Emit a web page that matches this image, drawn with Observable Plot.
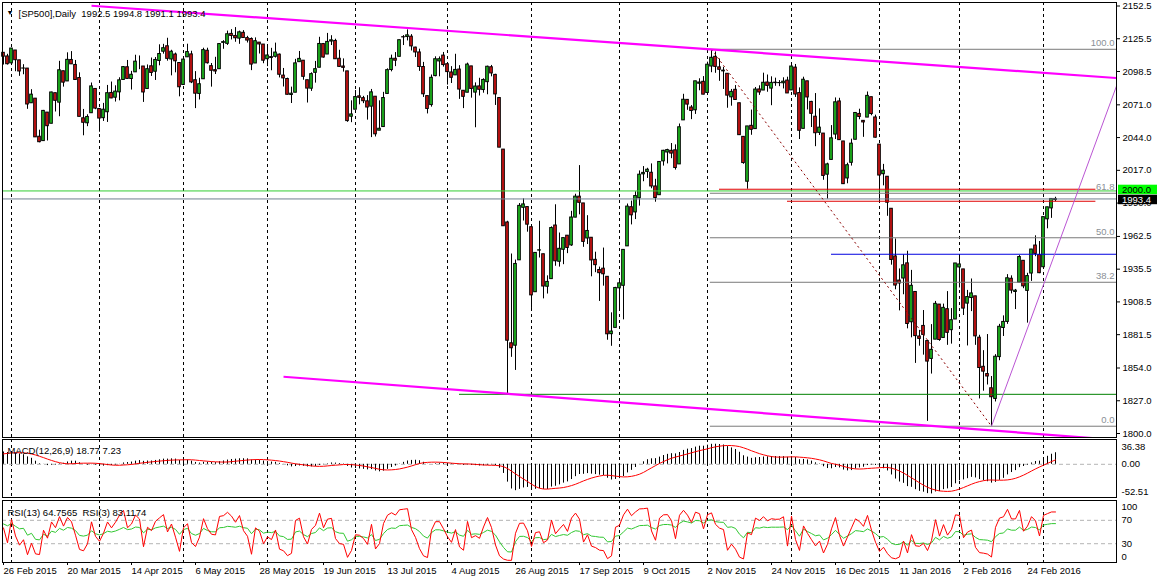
<!DOCTYPE html>
<html>
<head>
<meta charset="utf-8">
<script src="https://cdn.jsdelivr.net/npm/d3@7"></script>
<script src="https://cdn.jsdelivr.net/npm/@observablehq/plot@0.6"></script>
<style>
  html, body { margin: 0; padding: 0; background: #fff; }
  #chart { position: relative; width: 1157px; height: 584px; overflow: hidden; background: #fff; }
  #chart svg { position: absolute; left: 0; }
</style>
</head>
<body>
<div id="chart"></div>
<script>
// ---------------- DATA ----------------
const symbolName = "[SP500],Daily";
const macdLabel = "MACD(12,26,9) 18.77 7.23";
const rsiLabel = "RSI(13) 64.7565  RSI(3) 83.1174";

// daily bars, 26 Feb 2015 .. 4 Mar 2016 (bar index 0..263)
const opens = [
2113.9,2110.9,2105.2,2115.8,2107.7,2100.9,2100.9,2072.3,2076.1,2044.7,
2041.1,2064.6,2055.4,2080.6,2072.8,2098.7,2090.3,2108.0,2103.9,2093.1,
2059.9,2055.8,2064.1,2084.1,2067.6,2060.0,2064.9,2080.8,2076.9,2081.3,
2091.5,2102.0,2092.3,2097.8,2105.0,2102.6,2084.1,2102.8,2098.3,2107.2,
2114.8,2119.3,2108.4,2112.5,2105.5,2087.4,2110.2,2112.6,2091.3,2080.0,
2092.1,2115.6,2102.9,2099.6,2100.4,2122.1,2121.3,2129.5,2127.8,2125.6,
2130.4,2126.0,2125.3,2105.1,2122.3,2120.7,2108.6,2110.4,2110.6,2112.4,
2095.1,2092.3,2079.1,2081.0,2106.2,2107.4,2091.3,2084.3,2097.4,2101.6,
2121.1,2112.5,2123.2,2123.7,2109.0,2102.6,2098.6,2061.2,2067.0,2078.0,
2076.5,2073.9,2069.5,2077.7,2049.7,2052.7,2080.0,2099.7,2109.0,2110.6,
2126.8,2126.9,2127.2,2118.2,2114.2,2102.2,2078.2,2070.8,2094.7,2106.8,
2111.6,2104.5,2097.7,2095.3,2100.1,2082.6,2081.0,2102.7,2081.1,2086.2,
2083.2,2089.7,2102.0,2095.7,2076.6,2034.1,1974.0,1874.4,1872.4,1942.8,
1986.1,1986.7,1970.1,1916.5,1950.8,1947.8,1921.0,1927.3,1971.5,1941.6,
1951.5,1963.1,1955.1,1978.0,1995.3,1989.7,1960.8,1961.4,1943.2,1934.8,
1935.9,1929.2,1881.9,1887.1,1919.7,1921.8,1954.3,1986.6,1982.3,1994.0,
2013.7,2015.7,2015.0,2003.7,1996.5,2024.4,2031.7,2033.1,2033.5,2021.9,
2058.2,2075.1,2068.8,2066.5,2088.4,2090.0,2080.8,2102.6,2110.6,2101.9,
2098.6,2096.6,2077.2,2083.4,2072.3,2044.6,2007.6,2053.7,2051.0,2083.7,
2082.8,2089.4,2084.4,2089.3,2088.9,2088.8,2091.0,2082.9,2101.7,2080.7,
2051.2,2090.4,2073.4,2061.2,2047.9,2047.3,2013.4,2025.6,2046.5,2073.8,
2040.8,2010.3,2023.2,2042.2,2063.5,2057.8,2060.5,2077.3,2060.6,2038.2,
2013.8,2011.7,1985.3,1946.0,1926.1,1927.8,1940.3,1891.7,1916.7,1880.0,
1888.7,1876.2,1861.5,1877.4,1906.3,1878.8,1902.5,1885.2,1894.0,1936.9,
1935.3,1907.1,1911.7,1913.1,1879.0,1855.0,1849.0,1837.3,1828.5,1863.0,
1887.0,1892.0,1927.6,1916.7,1924.4,1942.4,1917.6,1931.9,1955.0,1947.1,
1937.1,1976.6,1985.6,1992.5];
const highs = [
2113.9,2112.7,2117.5,2115.8,2107.7,2104.1,2100.9,2083.5,2076.1,2050.1,
2066.4,2064.6,2081.4,2080.6,2106.9,2098.7,2113.9,2114.9,2107.6,2097.4,
2067.2,2062.8,2089.0,2084.1,2067.6,2072.2,2087.0,2089.8,2086.7,2093.3,
2102.6,2107.6,2098.6,2111.9,2111.3,2102.6,2103.9,2109.6,2110.0,2120.5,
2120.9,2125.9,2116.0,2113.7,2105.5,2108.4,2121.0,2115.2,2098.4,2092.9,
2117.7,2117.7,2105.1,2110.2,2121.5,2123.9,2131.8,2133.0,2134.7,2131.8,
2132.2,2127.5,2126.2,2126.2,2122.3,2120.7,2119.2,2117.6,2121.9,2112.9,
2101.0,2093.0,2085.6,2108.5,2115.0,2107.4,2091.3,2097.4,2106.8,2126.7,
2121.6,2129.9,2128.0,2125.1,2116.0,2108.9,2098.6,2074.3,2082.8,2085.1,
2078.0,2078.6,2083.7,2077.7,2074.3,2081.3,2100.7,2112.0,2114.1,2124.4,
2128.1,2132.8,2128.9,2118.5,2116.9,2106.0,2078.2,2095.6,2110.6,2110.5,
2114.2,2105.7,2102.5,2112.7,2103.3,2082.6,2105.4,2102.7,2089.1,2092.9,
2092.5,2102.9,2103.5,2096.2,2076.6,2034.1,1975.0,1948.0,1943.0,1989.6,
1993.5,1986.7,1970.1,1948.9,1975.0,1947.8,1930.0,1970.4,1988.6,1965.3,
1961.1,1963.1,1983.2,1997.3,2020.9,1989.7,1979.6,1961.4,1949.5,1937.2,
1952.9,1929.2,1899.5,1920.5,1927.2,1951.4,1989.2,1991.6,1999.3,2016.5,
2020.1,2018.7,2022.3,2009.6,2024.2,2033.5,2034.4,2039.1,2038.0,2055.2,
2079.7,2075.1,2070.4,2090.4,2092.5,2094.3,2106.2,2116.5,2114.6,2108.8,
2101.9,2096.6,2083.7,2086.9,2072.3,2044.6,2053.2,2066.7,2085.3,2086.7,
2097.1,2095.6,2094.1,2093.0,2091.0,2093.3,2093.8,2103.4,2104.3,2085.0,
2093.8,2090.4,2073.9,2080.3,2067.7,2047.3,2022.9,2053.9,2076.7,2076.4,
2040.8,2022.9,2042.7,2064.7,2067.4,2057.8,2081.6,2077.3,2062.5,2038.2,
2021.9,2011.7,1985.3,1960.4,1935.7,1947.4,1950.3,1934.5,1916.7,1885.0,
1901.4,1876.2,1889.8,1908.9,1906.3,1906.7,1917.0,1903.0,1940.2,1947.2,
1935.3,1918.0,1927.4,1913.1,1881.0,1868.3,1881.6,1847.0,1865.0,1890.0,
1897.0,1931.0,1930.0,1918.8,1946.7,1942.4,1932.1,1951.8,1963.0,1958.3,
1978.4,1986.5,1993.7,1994.8];
const lows = [
2103.8,2103.8,2104.5,2098.3,2094.5,2095.8,2067.3,2072.2,2044.2,2039.7,
2041.1,2041.2,2055.4,2065.1,2061.2,2085.6,2090.3,2104.4,2091.5,2061.1,
2045.5,2053.0,2064.1,2067.0,2048.4,2057.3,2056.5,2076.1,2073.3,2074.3,
2091.5,2092.3,2083.2,2097.8,2100.0,2073.0,2084.1,2094.4,2091.1,2103.2,
2112.8,2107.0,2094.9,2097.4,2077.6,2087.4,2110.2,2088.5,2067.9,2075.0,
2092.1,2104.6,2085.6,2096.0,2100.4,2116.8,2120.0,2124.5,2122.6,2120.9,
2126.1,2122.0,2099.2,2105.1,2112.9,2104.9,2102.5,2099.1,2109.6,2093.2,
2085.7,2079.1,2072.1,2081.0,2106.2,2091.3,2072.5,2082.1,2088.9,2101.6,
2109.5,2112.5,2119.9,2108.6,2101.8,2098.0,2056.6,2056.3,2067.0,2071.0,
2072.0,2058.4,2044.0,2044.5,2049.7,2052.7,2080.0,2098.2,2102.5,2110.6,
2119.9,2123.7,2115.4,2110.0,2098.6,2077.1,2063.5,2069.1,2094.1,2094.1,
2102.1,2087.3,2088.6,2095.3,2075.5,2067.9,2081.0,2076.5,2052.1,2078.3,
2080.6,2079.3,2094.1,2070.5,2035.7,1970.9,1832.0,1862.8,1852.0,1942.8,
1975.2,1966.0,1903.1,1916.5,1944.7,1911.0,1915.0,1927.3,1937.9,1937.2,
1939.2,1948.3,1954.3,1977.9,1980.3,1953.5,1955.8,1929.2,1932.6,1908.9,
1921.5,1876.9,1871.9,1887.1,1900.7,1893.7,1954.3,1972.0,1976.4,1987.5,
2007.6,2010.3,2001.8,1990.7,1996.5,2020.5,2022.3,2026.6,2017.2,2021.9,
2058.2,2066.5,2058.8,2063.1,2082.6,2079.3,2080.8,2097.5,2097.0,2090.4,
2083.7,2068.2,2069.9,2074.9,2045.7,2022.0,2001.4,2045.9,2051.0,2078.8,
2082.8,2081.4,2070.3,2086.3,2086.0,2084.1,2080.4,2082.9,2077.1,2042.4,
2051.2,2066.8,2052.3,2036.5,2045.7,2008.8,1993.3,2025.6,2042.4,2041.7,
2005.3,2005.9,2020.5,2042.2,2058.7,2044.2,2060.5,2062.0,2043.6,1989.7,
2004.2,1979.1,1938.8,1918.5,1901.1,1914.4,1886.3,1878.9,1857.8,1872.0,
1864.6,1810.0,1849.0,1877.4,1876.0,1878.8,1872.7,1873.7,1894.0,1920.0,
1897.3,1872.2,1900.5,1872.7,1828.5,1834.9,1840.0,1806.0,1826.0,1860.0,
1880.0,1890.0,1915.1,1902.2,1924.4,1919.4,1891.0,1925.4,1945.8,1931.8,
1937.1,1968.8,1977.4,1991.1];
const closes = [
2110.7,2104.5,2117.4,2107.8,2098.5,2101.0,2071.3,2079.4,2044.2,2040.2,
2066.0,2053.4,2081.2,2074.3,2099.5,2089.3,2108.1,2104.4,2091.5,2061.1,
2056.2,2061.0,2086.2,2067.9,2059.7,2067.0,2080.6,2076.3,2081.9,2091.2,
2102.1,2092.4,2095.8,2106.6,2105.0,2081.2,2100.4,2097.3,2108.0,2112.9,
2117.7,2108.9,2114.8,2106.9,2085.5,2108.3,2114.5,2089.5,2080.2,2088.0,
2116.1,2105.3,2099.1,2098.5,2121.1,2122.7,2129.2,2127.8,2125.9,2130.8,
2126.1,2124.0,2104.2,2123.5,2120.8,2107.4,2111.7,2109.6,2114.1,2095.8,
2092.8,2079.3,2080.2,2105.2,2108.9,2094.1,2084.4,2096.3,2100.4,2121.2,
2110.0,2122.9,2124.2,2108.6,2102.3,2101.5,2057.6,2063.1,2077.4,2076.8,
2074.0,2068.8,2081.3,2046.7,2051.3,2076.6,2099.6,2109.0,2107.4,2124.3,
2126.6,2128.3,2119.2,2114.2,2102.2,2079.7,2067.6,2093.3,2108.6,2108.6,
2103.8,2098.0,2093.3,2099.8,2083.6,2077.6,2104.2,2084.1,2086.1,2083.4,
2091.5,2102.4,2096.9,2079.6,2035.7,1970.9,1876.5,1870.3,1939.8,1987.7,
1988.9,1972.2,1913.9,1948.9,1951.1,1921.2,1925.0,1969.4,1942.0,1952.3,
1961.1,1953.0,1978.1,1995.3,1990.2,1958.0,1967.0,1942.7,1938.8,1932.2,
1931.3,1881.8,1884.1,1920.0,1923.8,1951.4,1987.1,1979.9,1995.8,2013.4,
2014.9,2017.5,2003.7,1994.2,2023.9,2033.1,2033.7,2030.8,2018.9,2052.5,
2075.2,2071.2,2065.9,2090.4,2089.4,2079.4,2104.1,2109.8,2102.3,2099.9,
2099.2,2078.6,2081.7,2075.0,2046.0,2023.0,2053.2,2050.4,2083.6,2081.2,
2089.2,2086.6,2089.1,2088.9,2089.0,2090.1,2080.4,2102.6,2079.5,2049.6,
2091.7,2077.1,2063.6,2047.6,2052.2,2012.4,2021.9,2043.4,2073.1,2041.9,
2005.6,2021.2,2039.0,2064.3,2061.0,2056.5,2078.4,2063.4,2043.9,2012.7,
2016.7,1990.3,1943.1,1922.0,1923.7,1938.7,1890.3,1921.8,1880.3,1878.0,
1881.3,1859.3,1869.0,1906.9,1877.1,1903.6,1883.0,1893.4,1940.2,1939.4,
1903.0,1912.5,1915.5,1880.1,1854.0,1851.0,1847.0,1829.9,1863.3,1888.0,
1892.0,1928.0,1917.8,1917.8,1945.5,1921.3,1929.8,1951.7,1948.1,1932.2,
1978.4,1986.5,1993.4,1993.4];

// closes before the visible window (Nov 2014 .. 25 Feb 2015), only used to warm up MACD / RSI
const warmupCloses = [
2017.8,2012.1,2023.6,2031.2,2031.9,2038.3,2039.7,2038.3,2039.3,2039.8,2041.3,2051.8,2048.7,2052.8,2063.5,2069.4,2067.0,2072.8,2067.6,
2053.4,2066.6,2074.3,2071.9,2075.4,2060.3,2059.8,2026.1,2035.3,2002.3,1989.6,1972.7,2012.9,2061.2,2070.7,2078.5,2082.2,2081.9,2088.8,2090.6,2080.4,2058.9,
2058.2,2020.6,2002.6,2025.9,2062.1,2044.8,2028.3,2023.0,2011.3,1992.7,2019.4,2022.6,2032.1,2063.2,2051.8,2057.1,2029.6,2002.2,2021.3,1995.0,
2020.9,2050.0,2041.5,2062.5,2055.5,2046.7,2068.6,2068.5,2088.5,2097.0,2100.3,2099.7,2097.5,2110.3,2109.7,2115.5,2113.9];

// time axis
const dateLabels = ["26 Feb 2015","20 Mar 2015","14 Apr 2015","6 May 2015","28 May 2015","19 Jun 2015","13 Jul 2015","4 Aug 2015","26 Aug 2015","17 Sep 2015","9 Oct 2015","2 Nov 2015","24 Nov 2015","16 Dec 2015","11 Jan 2016","2 Feb 2016","24 Feb 2016"];
const dateLabelBars = [0,16,32,48,64,80,96,112,128,144,160,176,192,208,224,240,256];
const monthSeparatorBars = [2,24,45,66,88,111,132,154,176,197,219,239,260];

// price axis ticks
const priceTicks = [2152.5,2125.5,2098.5,2071.0,2044.0,2017.0,1990.0,1962.5,1935.5,1908.5,1881.5,1854.0,1827.0,1800.0];

// drawn objects (bar index, price)
const fibLevels = [
  {label: "100.0", price: 2116.8},
  {label: "61.8", price: 1998.1},
  {label: "50.0", price: 1961.4},
  {label: "38.2", price: 1924.7},
  {label: "0.0", price: 1806.0}
];
const fibStartBar = 176.7;
const fibDiagonal = [{bar1: 177, price1: 2116.8, bar2: 247, price2: 1806.0}];
const channelLines = [
  {bar1: 22, price1: 2152.7, bar2: 278.25, price2: 2093.1},
  {bar1: 70, price1: 1846.8, bar2: 278.25, price2: 1794.7}
];
const supportTrend = [{bar1: 247, price1: 1806.0, bar2: 278.25, price2: 2086.5}];
const redLevels = [{price: 2001.4, from: 179, to: 273.1}, {price: 1991.5, from: 196, to: 273.1}];
const blueLevel = [{price: 1947.8, from: 207}];
const greenLevel = [{price: 1832.3, from: 114}];
const alertLevel = 2000.0;

// MACD / RSI axis values
const macdTicks = {top: 36.38, zero: 0, bottom: -52.51};
const rsiTicks = [100, 70, 30, 0];

// ---------------- derived ----------------
const N = closes.length;
const lastBar = N - 1;
const lastClose = closes[lastBar];
const candles = closes.map((c, i) => ({i, o: opens[i], h: highs[i], l: lows[i], c}));

function ema(arr, n) {
  const k = 2 / (n + 1), out = [arr[0]];
  for (let i = 1; i < arr.length; i++) out.push(arr[i] * k + out[i - 1] * (1 - k));
  return out;
}
function sma(arr, n) {
  return arr.map((_, i) => i < n - 1 ? NaN : d3.mean(arr.slice(i - n + 1, i + 1)));
}
function rsi(arr, n) {
  const out = new Array(arr.length).fill(NaN);
  let g = 0, l = 0;
  for (let i = 1; i <= n; i++) { const d = arr[i] - arr[i - 1]; if (d > 0) g += d; else l -= d; }
  g /= n; l /= n; out[n] = l === 0 ? 100 : 100 - 100 / (1 + g / l);
  for (let i = n + 1; i < arr.length; i++) {
    const d = arr[i] - arr[i - 1];
    g = (g * (n - 1) + Math.max(d, 0)) / n;
    l = (l * (n - 1) + Math.max(-d, 0)) / n;
    out[i] = l === 0 ? 100 : 100 - 100 / (1 + g / l);
  }
  return out;
}
const allCloses = warmupCloses.concat(closes);
const off = warmupCloses.length;
const e12 = ema(allCloses, 12), e26 = ema(allCloses, 26);
const macdAll = e12.map((v, i) => v - e26[i]);
const sigAll = sma(macdAll, 9);
const rsi13All = rsi(allCloses, 13), rsi3All = rsi(allCloses, 3);
const ind = closes.map((_, i) => ({
  i, macd: macdAll[i + off], signal: sigAll[i + off], r13: rsi13All[i + off], r3: rsi3All[i + off]
}));

// ---------------- styling ----------------
const FONT = '"Liberation Sans", Arial, sans-serif';
const FS = 9.5;
const UP = "#1fc41f", DOWN = "#d81414";
const W = 1157;
const X_DOMAIN = [-0.25, 278.25];
const baseStyle = {fontFamily: FONT, fontSize: FS + "px", background: "transparent", color: "#000", overflow: "visible"};
const chart = document.getElementById("chart");
const fmt1 = d => d.toFixed(1);

// ---------------- MAIN PRICE PANEL ----------------
const main = Plot.plot({
  width: W, height: 438,
  marginLeft: 2, marginRight: 41, marginTop: 2, marginBottom: 1,
  style: baseStyle,
  x: {domain: X_DOMAIN, axis: null},
  y: {domain: [1796.702, 2155.386]},
  marks: [
    Plot.ruleX(monthSeparatorBars, {stroke: "#000", strokeDasharray: "3,3"}),
    // candles
    Plot.ruleX(candles, {x: "i", y1: "l", y2: "h", stroke: "#000", strokeWidth: 1}),
    Plot.rect(candles, {
      x1: d => d.i - 0.33, x2: d => d.i + 0.33,
      y1: d => Math.min(d.o, d.c), y2: d => Math.max(d.o, d.c),
      fill: d => d.c >= d.o ? UP : DOWN, stroke: "#000", strokeWidth: 1
    }),
    // horizontal objects
    Plot.ruleY([alertLevel], {stroke: "#32cd32"}),
    Plot.ruleY([lastClose], {stroke: "#708090"}),
    Plot.ruleY(fibLevels, {y: "price", x1: () => fibStartBar, x2: () => X_DOMAIN[1], stroke: "#7a7a7a"}),
    Plot.ruleY(redLevels, {y: "price", x1: "from", x2: "to", stroke: "#e00000"}),
    Plot.ruleY(blueLevel, {y: "price", x1: "from", x2: () => X_DOMAIN[1], stroke: "#0000e0"}),
    Plot.ruleY(greenLevel, {y: "price", x1: "from", x2: () => X_DOMAIN[1], stroke: "#008000"}),
    // trend lines
    Plot.link(fibDiagonal, {x1: "bar1", y1: "price1", x2: "bar2", y2: "price2", stroke: "#8b0000", strokeDasharray: "2,3"}),
    Plot.link(channelLines, {x1: "bar1", y1: "price1", x2: "bar2", y2: "price2", stroke: "#ff00ff", strokeWidth: 2.2, clip: true}),
    Plot.link(supportTrend, {x1: "bar1", y1: "price1", x2: "bar2", y2: "price2", stroke: "#ba55d3", strokeWidth: 1, clip: true}),
    // fib labels
    Plot.text(fibLevels, {x: () => X_DOMAIN[1], y: "price", text: "label", textAnchor: "end", dx: -2, dy: -6, fill: "#8a8f96", fontSize: FS}),
    // header
    Plot.text(["\u25BC"], {frameAnchor: "top-left", dx: 7.5, dy: 8, textAnchor: "middle", fontSize: 7, fill: "#000"}),
    Plot.text([symbolName + "  " + [opens[lastBar], highs[lastBar], lows[lastBar], closes[lastBar]].map(fmt1).join(" ")],
      {frameAnchor: "top-left", dx: 16, dy: 8, textAnchor: "start", fontSize: FS, fill: "#000"}),
    // price axis
    Plot.axisY({anchor: "right", ticks: priceTicks, tickFormat: fmt1, tickSize: 3, tickPadding: 3, label: null, fontSize: FS}),
    Plot.frame({stroke: "#000"})
  ]
});
main.style.top = "0px";
chart.appendChild(main);

// current-price and alert labels on the right scale
{
  const ys = main.scale("y");
  const svg = d3.select(main);
  const boxes = [
    {v: alertLevel, bg: "#00ff00", fg: "#000", shift: -1.5},
    {v: lastClose, bg: "#000", fg: "#fff", shift: 0.5}
  ];
  for (const b of boxes) {
    const y = ys.apply(b.v) + 0.5 + b.shift;
    svg.append("rect").attr("x", 1118).attr("y", y - 4.75).attr("width", 39).attr("height", 9.5).attr("fill", b.bg);
    svg.append("text").attr("x", 1122).attr("y", y).attr("dy", "0.35em").attr("text-anchor", "start")
      .attr("fill", b.fg).attr("font-size", FS).attr("font-family", FONT).text(fmt1(b.v));
  }
}

// ---------------- MACD PANEL ----------------
const macdPlot = Plot.plot({
  width: W, height: 61,
  marginLeft: 2, marginRight: 41, marginTop: 1, marginBottom: 2,
  style: baseStyle,
  x: {domain: X_DOMAIN, axis: null},
  y: {domain: [-53.55, 40.0]},
  marks: [
    Plot.ruleX(monthSeparatorBars, {stroke: "#000", strokeDasharray: "3,3"}),
    Plot.ruleY([macdTicks.zero], {stroke: "#b4b4b4", strokeDasharray: "4,3"}),
    Plot.ruleX(ind, {x: "i", y1: () => 0, y2: "macd", stroke: "#000", strokeWidth: 1}),
    Plot.line(ind, {x: "i", y: "signal", stroke: "#ff0000", strokeWidth: 1}),
    Plot.text([macdLabel], {frameAnchor: "top-left", dx: 5, dy: 8, textAnchor: "start", fontSize: FS, fill: "#000"}),
    Plot.axisY({anchor: "right", ticks: [macdTicks.top], tickFormat: d => d.toFixed(2), tickSize: 0, tickPadding: 5, dy: 5.3, label: null, fontSize: FS}),
    Plot.axisY({anchor: "right", ticks: [macdTicks.zero], tickFormat: d => d.toFixed(2), tickSize: 0, tickPadding: 5, label: null, fontSize: FS}),
    Plot.axisY({anchor: "right", ticks: [macdTicks.bottom], tickFormat: d => d.toFixed(2), tickSize: 0, tickPadding: 5, dy: -5.2, label: null, fontSize: FS}),
    Plot.frame({stroke: "#000"})
  ]
});
macdPlot.style.top = "438px";
chart.appendChild(macdPlot);

// ---------------- RSI PANEL + TIME AXIS ----------------
const rsiPlot = Plot.plot({
  width: W, height: 85,
  marginLeft: 2, marginRight: 41, marginTop: 1, marginBottom: 22,
  style: baseStyle,
  x: {domain: X_DOMAIN},
  y: {domain: [-2.14, 103.94]},
  marks: [
    Plot.ruleX(monthSeparatorBars, {stroke: "#000", strokeDasharray: "3,3"}),
    Plot.ruleY([70, 30], {stroke: "#b4b4b4", strokeDasharray: "4,3"}),
    Plot.line(ind, {x: "i", y: "r13", stroke: "#32c832", strokeWidth: 1}),
    Plot.line(ind, {x: "i", y: "r3", stroke: "#ff0000", strokeWidth: 1}),
    Plot.text([rsiLabel], {frameAnchor: "top-left", dx: 5, dy: 9, textAnchor: "start", fontSize: FS, fill: "#000"}),
    Plot.axisY({anchor: "right", ticks: [rsiTicks[0]], tickFormat: d => String(d), tickSize: 0, tickPadding: 5, dy: 4.5, label: null, fontSize: FS}),
    Plot.axisY({anchor: "right", ticks: [rsiTicks[1], rsiTicks[2]], tickFormat: d => String(d), tickSize: 0, tickPadding: 5, label: null, fontSize: FS}),
    Plot.axisY({anchor: "right", ticks: [rsiTicks[3]], tickFormat: d => String(d), tickSize: 0, tickPadding: 5, dy: -4.5, label: null, fontSize: FS}),
    Plot.axisX({anchor: "bottom", ticks: dateLabelBars, tickFormat: d => dateLabels[dateLabelBars.indexOf(d)],
      tickSize: 3, tickPadding: 2, textAnchor: "start", label: null, fontSize: FS}),
    Plot.frame({stroke: "#000"})
  ]
});
rsiPlot.style.top = "499px";
chart.appendChild(rsiPlot);
</script>
</body>
</html>
